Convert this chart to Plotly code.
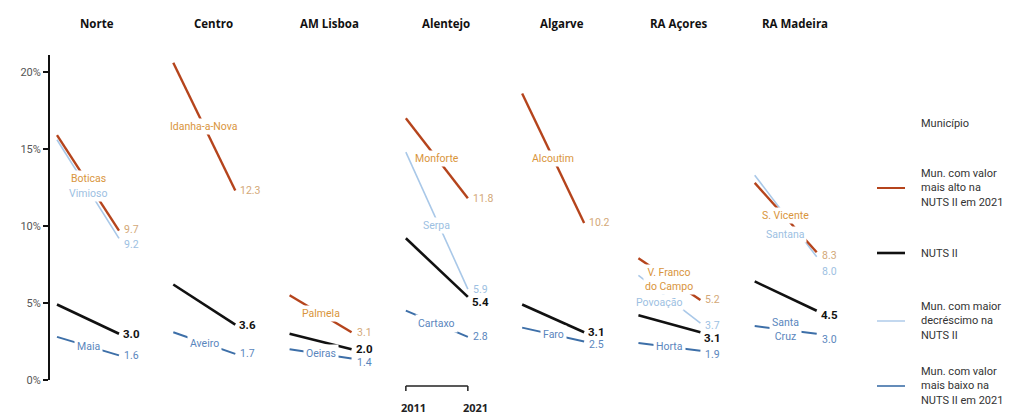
import plotly.graph_objects as go
from plotly.subplots import make_subplots

# ---------------- data ----------------
regions = ["Norte", "Centro", "AM Lisboa", "Alentejo", "Algarve", "RA Açores", "RA Madeira"]
years = [2011, 2021]

max_names = ["Boticas", "Idanha-a-Nova", "Palmela", "Monforte", "Alcoutim", "V. Franco<br>do Campo", "S. Vicente"]
max_2011 = [15.9, 20.6, 5.5, 17.0, 18.6, 7.9, 12.8]
max_2021 = [9.7, 12.3, 3.1, 11.8, 10.2, 5.2, 8.3]

dec_names = ["Vimioso", None, None, "Serpa", None, "Povoação", "Santana"]
dec_2011 = [15.6, None, None, 14.8, None, 6.8, 13.3]
dec_2021 = [9.2, None, None, 5.9, None, 3.7, 8.0]

nuts_2011 = [4.9, 6.2, 3.0, 9.2, 4.9, 4.2, 6.4]
nuts_2021 = [3.0, 3.6, 2.0, 5.4, 3.1, 3.1, 4.5]

min_names = ["Maia", "Aveiro", "Oeiras", "Cartaxo", "Faro", "Horta", "Santa<br>Cruz"]
min_2011 = [2.8, 3.1, 2.0, 4.5, 3.4, 2.4, 3.5]
min_2021 = [1.6, 1.7, 1.4, 2.8, 2.5, 1.9, 3.0]

y_ticks = [0, 5, 10, 15, 20]
legend_title = "Município"
legend_labels = ["Mun. com valor<br>mais alto na<br>NUTS II em 2021", "NUTS II",
                 "Mun. com maior<br>decréscimo na<br>NUTS II", "Mun. com valor<br>mais baixo na<br>NUTS II em 2021"]

# ---------------- styles ----------------
# page body has an 8px margin, so the figure is sized/positioned to compensate
W, H = 1026, 408
ML, MR, MT, MB = 42, 170, 47, 36
C_MAX, C_MAX_TXT, C_MAX_VAL = "#b5441c", "#d9953c", "#d3a878"
C_DEC, C_DEC_TXT = "#a9c8e8", "#9dbfe2"
C_NUTS = "#111111"
C_MIN, C_MIN_TXT = "#3d6fa8", "#5a86bd"
FONT = "Roboto"

# label position tweaks (pixels)
max_lab_shift = [4, 0, 0, 0, 0, 0, 2]
dec_lab_shift = [-4, 0, 0, -5, 0, -3, -19]
dec_lab_xshift = [0, 0, 0, 0, 0, -10, 0]
max_val_shift = [1, 0, 0, 0, 0, 0, -3]
dec_val_shift = [-6, 0, 0, 0, 0, -2, -15]
nuts_val_shift = [0, 0, 0, -5, 0, -6, -4]
min_val_shift = [0, 0, -4, 0, -3, -4, -6]

plot_h = H - MT - MB
plot_w = W - ML - MR
OFF = 8
def py(s):  # screen pixel y -> paper
    return (H - MB - (s - OFF)) / plot_h
def px(s):  # screen pixel x -> paper
    return ((s - OFF) - ML) / plot_w

n = len(regions)
fig = make_subplots(rows=1, cols=n, shared_yaxes=True, horizontal_spacing=0)

for i in range(n):
    c = i + 1
    if dec_2011[i] is not None:
        fig.add_trace(go.Scatter(x=years, y=[dec_2011[i], dec_2021[i]], mode="lines",
                                 line=dict(color=C_DEC, width=1.6), showlegend=False,
                                 hoverinfo="skip"), row=1, col=c)
    fig.add_trace(go.Scatter(x=years, y=[max_2011[i], max_2021[i]], mode="lines",
                             line=dict(color=C_MAX, width=2.4), showlegend=False,
                             hoverinfo="skip"), row=1, col=c)
    fig.add_trace(go.Scatter(x=years, y=[nuts_2011[i], nuts_2021[i]], mode="lines",
                             line=dict(color=C_NUTS, width=2.6), showlegend=False,
                             hoverinfo="skip"), row=1, col=c)
    fig.add_trace(go.Scatter(x=years, y=[min_2011[i], min_2021[i]], mode="lines",
                             line=dict(color=C_MIN, width=2), showlegend=False,
                             hoverinfo="skip"), row=1, col=c)

    mid = (years[0] + years[1]) / 2
    # name labels
    fig.add_annotation(x=mid, y=(max_2011[i] + max_2021[i]) / 2, text=max_names[i],
                       showarrow=False, bgcolor="white", borderpad=1,
                       yshift=max_lab_shift[i], yanchor="middle",
                       font=dict(size=10.5, color=C_MAX_TXT, family=FONT), row=1, col=c)
    if dec_names[i] is not None:
        fig.add_annotation(x=mid, y=(dec_2011[i] + dec_2021[i]) / 2, text=dec_names[i],
                           showarrow=False, bgcolor="white", borderpad=1, yanchor="middle",
                           yshift=dec_lab_shift[i], xshift=dec_lab_xshift[i],
                           font=dict(size=10.5, color=C_DEC_TXT, family=FONT), row=1, col=c)
    fig.add_annotation(x=mid, y=(min_2011[i] + min_2021[i]) / 2, text=min_names[i],
                       showarrow=False, bgcolor="white", borderpad=2, yanchor="middle",
                       font=dict(size=10.5, color=C_MIN_TXT, family=FONT), row=1, col=c)
    # end values
    fig.add_annotation(x=years[1], y=max_2021[i], text=f"{max_2021[i]:.1f}", showarrow=False,
                       xanchor="left", yanchor="middle", xshift=3, yshift=max_val_shift[i],
                       font=dict(size=10.5, color=C_MAX_VAL, family=FONT), row=1, col=c)
    if dec_2021[i] is not None:
        fig.add_annotation(x=years[1], y=dec_2021[i], text=f"{dec_2021[i]:.1f}", showarrow=False,
                           xanchor="left", yanchor="middle", xshift=3, yshift=dec_val_shift[i],
                           font=dict(size=10.5, color=C_DEC_TXT, family=FONT), row=1, col=c)
    fig.add_annotation(x=years[1], y=nuts_2021[i], text=f"<b>{nuts_2021[i]:.1f}</b>", showarrow=False,
                       xanchor="left", yanchor="middle", xshift=2, yshift=nuts_val_shift[i],
                       font=dict(size=11.5, color=C_NUTS, family=FONT), row=1, col=c)
    fig.add_annotation(x=years[1], y=min_2021[i], text=f"{min_2021[i]:.1f}", showarrow=False,
                       xanchor="left", yanchor="middle", xshift=3, yshift=min_val_shift[i],
                       font=dict(size=10.5, color=C_MIN_TXT, family=FONT), row=1, col=c)
    # region title
    fig.add_annotation(x=2017.45, y=1, yref="paper", xref=f"x{'' if c == 1 else c}",
                       text=f"<b>{regions[i]}</b>", showarrow=False, yanchor="middle", yshift=32,
                       font=dict(size=11.5, color="#111", family="Open Sans"))

    fig.update_xaxes(range=[2011 - 1.13, 2011 + 17.63], visible=False, row=1, col=c)

# scale bar under Alentejo
xr = "x4"
for x0, x1, y0, y1 in [(years[0], years[1], py(386), py(386)),
                       (years[0], years[0], py(386), py(391)),
                       (years[1], years[1], py(386), py(391))]:
    fig.add_shape(type="line", xref=xr, yref="paper", x0=x0, x1=x1, y0=y0, y1=y1,
                  line=dict(color="#222", width=1.5))
for yr in years:
    fig.add_annotation(x=yr, y=py(407), xref=xr, yref="paper", text=f"<b>{yr}</b>",
                       showarrow=False, xshift=8, yanchor="middle",
                       font=dict(size=11, color="#222", family="Open Sans"))

# manual legend
fig.add_annotation(x=px(919), y=py(123), xref="paper", yref="paper", text=legend_title,
                   xanchor="left", yanchor="middle", showarrow=False,
                   font=dict(size=11, color="#333", family=FONT))
leg_colors = [C_MAX, C_NUTS, C_DEC, C_MIN]
leg_widths = [2, 2.6, 1.4, 1.6]
leg_y = [188, 253, 321, 386]
for lab, col, wd, yy in zip(legend_labels, leg_colors, leg_widths, leg_y):
    fig.add_shape(type="line", xref="paper", yref="paper", x0=px(877), x1=px(905),
                  y0=py(yy), y1=py(yy), line=dict(color=col, width=wd))
    fig.add_annotation(x=px(919), y=py(yy), xref="paper", yref="paper", text=lab,
                       xanchor="left", yanchor="middle", align="left", showarrow=False,
                       font=dict(size=11, color="#333", family=FONT))

fig.update_yaxes(range=[0, plot_h / 15.4], tickvals=y_ticks,
                 ticktext=[f"{v}%" for v in y_ticks], showgrid=False, zeroline=False)
fig.update_yaxes(showline=True, linecolor="#111", linewidth=2, ticks="outside",
                 ticklen=5, tickwidth=1.5, tickcolor="#111",
                 tickfont=dict(size=11, color="#555", family=FONT), row=1, col=1)
for c in range(2, n + 1):
    fig.update_yaxes(showline=False, ticks="", showticklabels=False, row=1, col=c)

fig.update_layout(width=W, height=H, margin=dict(l=ML, r=MR, t=MT, b=MB),
                  paper_bgcolor="white", plot_bgcolor="white", showlegend=False,
                  font=dict(family=FONT))

fig.write_html("out.html")
